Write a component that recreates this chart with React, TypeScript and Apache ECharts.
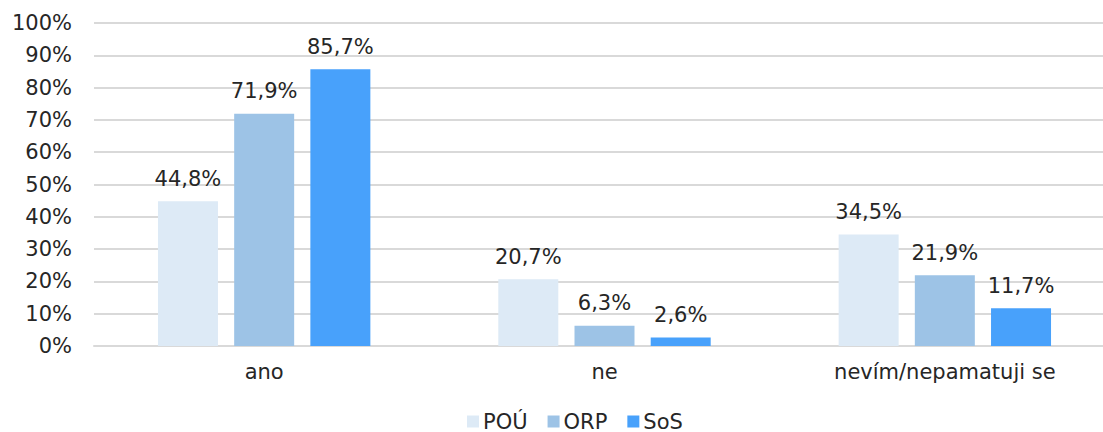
import React, { useEffect, useRef } from "react";
import * as echarts from "echarts";

const categories = ["ano", "ne", "nevím/nepamatuji se"];
const seriesNames = ["POÚ", "ORP", "SoS"];
const pouValues = [44.8, 20.7, 34.5];
const orpValues = [71.9, 6.3, 21.9];
const sosValues = [85.7, 2.6, 11.7];
const colors = ["#DDEAF6", "#9DC3E6", "#48A1FB"];

const FONT = "DejaVu Sans";

export default function App() {
  const ref = useRef<HTMLDivElement>(null);
  useEffect(() => {
    if (!ref.current) return;
    const chart = echarts.init(ref.current, undefined, { renderer: "svg" });
    const data = [pouValues, orpValues, sosValues];
    chart.setOption({
      animation: false,
      textStyle: { fontFamily: FONT },
      grid: { left: 94, top: 23, width: 1021, height: 323, containLabel: false },
      legend: {
        left: 467,
        top: 411,
        padding: 0,
        itemWidth: 12,
        itemHeight: 12,
        itemGap: 20,
        icon: "rect",
        textStyle: { fontFamily: FONT, fontSize: 21, color: "#262626", padding: [0, 0, 0, -1] },
        data: seriesNames,
      },
      xAxis: {
        type: "category",
        data: categories,
        axisTick: { show: false },
        axisLine: { lineStyle: { color: "#D9D9D9", width: 2 } },
        axisLabel: { fontFamily: FONT, fontSize: 21, color: "#262626", margin: 15 },
      },
      yAxis: {
        type: "value",
        min: 0,
        max: 100,
        interval: 10,
        axisLabel: { fontFamily: FONT, fontSize: 21, color: "#262626", margin: 22, formatter: "{value}%" },
        splitLine: { lineStyle: { color: "#D9D9D9", width: 2 } },
        axisLine: { show: false },
        axisTick: { show: false },
      },
      series: seriesNames.map((name, i) => ({
        name,
        type: "bar",
        data: data[i],
        barWidth: 60,
        barGap: "27%",
        itemStyle: { color: colors[i] },
        label: {
          show: true,
          position: "top",
          distance: 12,
          fontFamily: FONT,
          fontSize: 21,
          color: "#262626",
          formatter: (p: any) => p.value.toFixed(1).replace(".", ",") + "%",
        },
      })),
    });
    return () => chart.dispose();
  }, []);
  return (
    <div style={{ position: "fixed", left: 0, top: 0, width: 1103, height: 432, overflow: "hidden", background: "#fff" }}>
      <div ref={ref} style={{ width: 1130, height: 432 }} />
    </div>
  );
}
